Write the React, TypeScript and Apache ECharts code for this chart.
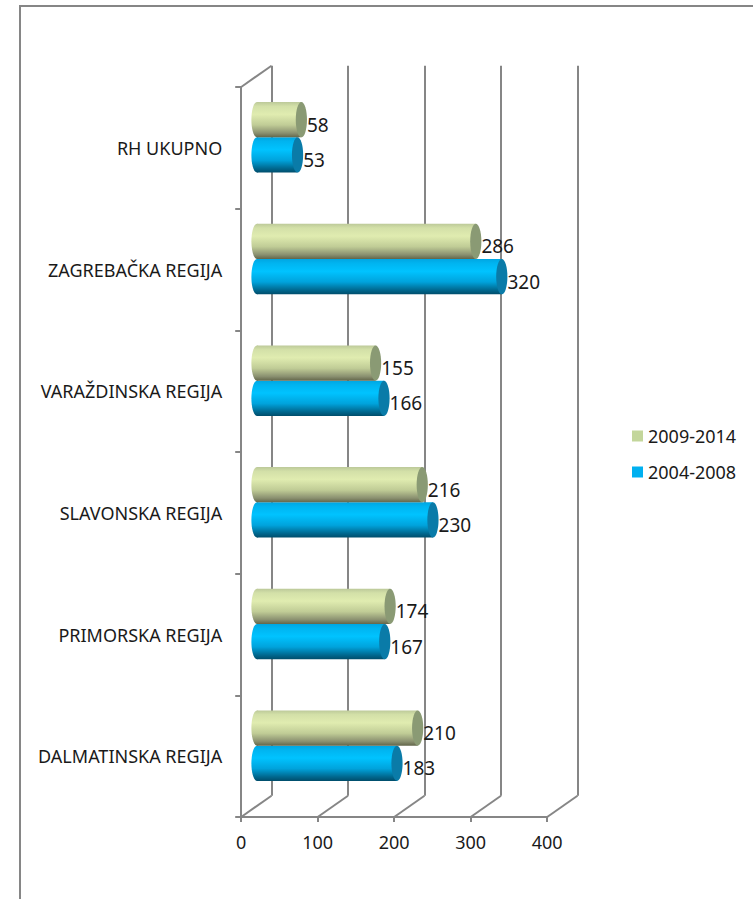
import React, { useEffect, useRef } from "react";
import * as echarts from "echarts";

const categories = [
  "DALMATINSKA REGIJA",
  "PRIMORSKA REGIJA",
  "SLAVONSKA REGIJA",
  "VARAŽDINSKA REGIJA",
  "ZAGREBAČKA REGIJA",
  "RH UKUPNO",
];
const values20092014 = [210, 174, 216, 155, 286, 58];
const values20042008 = [183, 167, 230, 166, 320, 53];
const valueTicks = [0, 100, 200, 300, 400];

const FONT = '"Noto Sans", sans-serif';
const GREY = "#868686";
const DEPTH_X = 30.3;
const DEPTH_Y = 21.3;

const greenGradient = () =>
  new echarts.graphic.LinearGradient(0, 0, 0, 1, [
    { offset: 0, color: "#bcc999" },
    { offset: 0.12, color: "#d3e0a8" },
    { offset: 0.35, color: "#e0ecb0" },
    { offset: 0.65, color: "#c0cc96" },
    { offset: 0.88, color: "#8a9070" },
    { offset: 1, color: "#63664a" },
  ]);
const blueGradient = () =>
  new echarts.graphic.LinearGradient(0, 0, 0, 1, [
    { offset: 0, color: "#00a6e2" },
    { offset: 0.12, color: "#00b4f0" },
    { offset: 0.35, color: "#00c3ff" },
    { offset: 0.65, color: "#00a3dc" },
    { offset: 0.88, color: "#00688f" },
    { offset: 1, color: "#004d6b" },
  ]);

function cylinder(direction: number, gradient: () => any, capColor: string) {
  return (params: any, api: any) => {
    const value = api.value(0);
    const cat = api.value(1);
    const start = api.coord([0, cat]);
    const end = api.coord([value, cat]);
    const thickness = api.size([0, 1])[1] * 0.29;
    const cy = start[1] + (direction * thickness) / 2;
    const ry = thickness / 2;
    const rx = 5.6;
    const fill = gradient();
    return {
      type: "group",
      children: [
        { type: "ellipse", shape: { cx: start[0], cy, rx, ry }, style: { fill } },
        {
          type: "rect",
          shape: { x: start[0], y: cy - ry, width: end[0] - start[0], height: thickness },
          style: { fill },
        },
        { type: "ellipse", shape: { cx: end[0], cy, rx, ry }, style: { fill: capColor } },
        {
          type: "text",
          style: {
            text: String(value),
            x: end[0] + rx,
            y: cy + 5,
            textAlign: "left",
            textVerticalAlign: "middle",
            font: `19px ${FONT}`,
            fill: "#1a1a1a",
          },
        },
      ],
    };
  };
}

function depthLine(x1: number, y1: number) {
  return {
    type: "line",
    shape: { x1, y1, x2: x1 + DEPTH_X, y2: y1 - DEPTH_Y },
    style: { stroke: GREY, lineWidth: 2 },
  };
}

export default function App() {
  const ref = useRef<HTMLDivElement>(null);
  useEffect(() => {
    const chart = echarts.init(ref.current!, undefined, { renderer: "svg" });
    const hiddenAxis = { show: false };
    chart.setOption({
      animation: false,
      backgroundColor: "#ffffff",
      textStyle: { fontFamily: FONT },
      graphic: [
        { type: "line", shape: { x1: 20, y1: 6, x2: 753, y2: 6 }, style: { stroke: GREY, lineWidth: 2 } },
        { type: "line", shape: { x1: 20, y1: 5, x2: 20, y2: 899 }, style: { stroke: GREY, lineWidth: 2 } },
      ],
      legend: {
        orient: "vertical",
        left: 627,
        top: 421,
        itemWidth: 11,
        itemHeight: 11,
        itemGap: 16,
        icon: "rect",
        data: ["2009-2014", "2004-2008"],
        textStyle: { fontSize: 18, color: "#1a1a1a", fontFamily: FONT, padding: [0, 0, 0, 0], lineHeight: 20 },
      },
      grid: [
        { left: 241.2, top: 87, width: 306, height: 730 },
        { left: 271.5, top: 65.7, width: 306, height: 730 },
        { left: 257, top: 76.5, width: 306, height: 730 },
      ],
      xAxis: [
        {
          gridIndex: 0,
          type: "value",
          min: 0,
          max: 400,
          interval: 100,
          axisLine: { show: true, lineStyle: { color: GREY, width: 2 } },
          axisTick: { show: true, length: 5, lineStyle: { color: GREY, width: 2 } },
          splitLine: { show: false },
          axisLabel: { fontSize: 18, color: "#1a1a1a", margin: 16, fontFamily: FONT },
        },
        {
          gridIndex: 1,
          type: "value",
          min: 0,
          max: 400,
          interval: 100,
          axisLine: { show: false },
          axisTick: { show: false },
          axisLabel: { show: false },
          splitLine: { show: true, lineStyle: { color: GREY, width: 2 } },
        },
        { gridIndex: 2, type: "value", min: 0, max: 400, ...hiddenAxis },
      ],
      yAxis: [
        {
          gridIndex: 0,
          type: "category",
          data: categories,
          axisLine: { show: true, onZero: false, lineStyle: { color: GREY, width: 2 } },
          axisTick: { show: true, length: 6, alignWithLabel: false, lineStyle: { color: GREY, width: 2 } },
          axisLabel: { fontSize: 18, color: "#1a1a1a", margin: 19, fontFamily: FONT },
        },
        { gridIndex: 1, type: "category", data: categories, ...hiddenAxis },
        { gridIndex: 2, type: "category", data: categories, ...hiddenAxis },
      ],
      series: [
        {
          type: "custom",
          name: "depth",
          xAxisIndex: 0,
          yAxisIndex: 0,
          z: 1,
          clip: false,
          silent: true,
          data: valueTicks.map((v) => [v]),
          encode: { x: 0 },
          renderItem: (params: any, api: any) => {
            const v = api.value(0);
            const sys = params.coordSys;
            const x = api.coord([v, 0])[0];
            const bottom = sys.y + sys.height;
            const children: any[] = [depthLine(x, bottom)];
            if (v === 0) children.push(depthLine(x, sys.y));
            return { type: "group", children };
          },
        },
        {
          type: "custom",
          name: "2004-2008",
          xAxisIndex: 2,
          yAxisIndex: 2,
          z: 3,
          clip: false,
          itemStyle: { color: "#00b0f0" },
          encode: { x: 0, y: 1 },
          data: values20042008.map((v, i) => [v, i]),
          renderItem: cylinder(1, blueGradient, "#0a7ba8"),
        },
        {
          type: "custom",
          name: "2009-2014",
          xAxisIndex: 2,
          yAxisIndex: 2,
          z: 4,
          clip: false,
          itemStyle: { color: "#c3d69b" },
          encode: { x: 0, y: 1 },
          data: values20092014.map((v, i) => [v, i]),
          renderItem: cylinder(-1, greenGradient, "#8a9a74"),
        },
      ],
    });
    return () => chart.dispose();
  }, []);
  return (
    <div
      ref={ref}
      style={{ position: "absolute", left: 0, top: 0, width: 753, height: 899 }}
    />
  );
}
